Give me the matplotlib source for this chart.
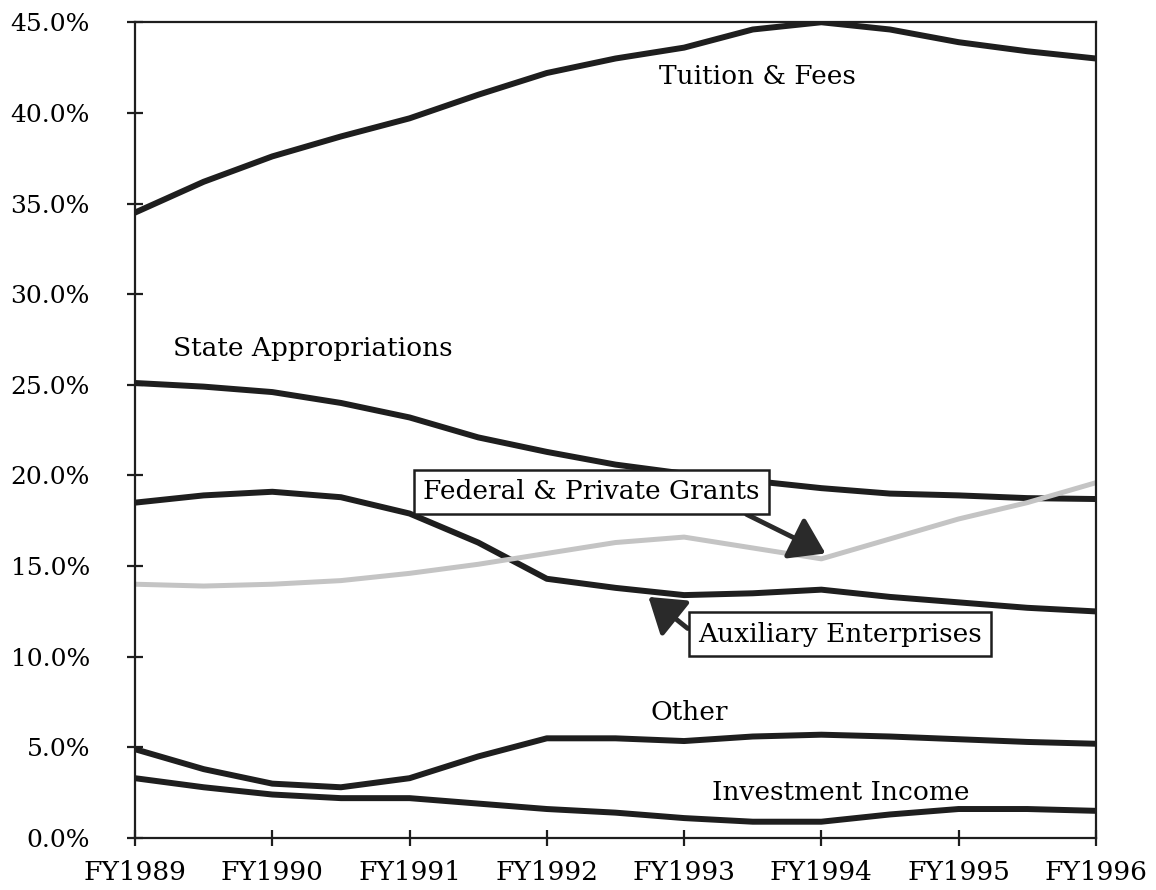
#Revenue shares by source, FY1989 - FY1996

import matplotlib
matplotlib.use('Agg')
import matplotlib.pyplot as plt
from matplotlib.ticker import FuncFormatter
import numpy as np

years = ['FY1989', 'FY1990', 'FY1991', 'FY1992', 'FY1993', 'FY1994', 'FY1995', 'FY1996']
# half-year steps between the fiscal years
x_pts = np.arange(0, 7.01, 0.5)

tuition = [34.5, 36.2, 37.6, 38.7, 39.7, 41.0, 42.2, 43.0, 43.6, 44.6, 45.0, 44.6, 43.9, 43.4, 43.0]
state = [25.1, 24.9, 24.6, 24.0, 23.2, 22.1, 21.3, 20.6, 20.1, 19.7, 19.3, 19.0, 18.9, 18.75, 18.7]
auxiliary = [18.5, 18.9, 19.1, 18.8, 17.9, 16.3, 14.3, 13.8, 13.4, 13.5, 13.7, 13.3, 13.0, 12.7, 12.5]
grants = [14.0, 13.9, 14.0, 14.2, 14.6, 15.1, 15.7, 16.3, 16.6, 16.0, 15.4, 16.5, 17.6, 18.5, 19.6]
other = [4.9, 3.8, 3.0, 2.8, 3.3, 4.5, 5.5, 5.5, 5.35, 5.6, 5.7, 5.6, 5.45, 5.3, 5.2]
investment = [3.3, 2.8, 2.4, 2.2, 2.2, 1.9, 1.6, 1.4, 1.1, 0.9, 0.9, 1.3, 1.6, 1.6, 1.5]

serif = 'DejaVu Serif'

fig = plt.figure(figsize=(11.56, 8.9), dpi=100)
ax = fig.add_axes([0.1168, 0.0584, 0.948 - 0.1168, 0.975 - 0.0584])

dark = '#1e1e1e'
for series in [tuition, state, auxiliary, other, investment]:
    ax.plot(x_pts, series, color=dark, lw=4.3, solid_capstyle='round', solid_joinstyle='round')
ax.plot(x_pts, grants, color='#c4c4c4', lw=3.6, solid_joinstyle='round')

ax.set_xlim(0, 7)
ax.set_ylim(0, 45)
ax.set_xticks(range(len(years)))
ax.set_xticklabels(years, fontfamily=serif, fontsize=19)
ax.set_yticks(np.arange(0, 45.1, 5))
ax.yaxis.set_major_formatter(FuncFormatter(lambda v, p: '%.1f%%' % v))
for lab in ax.get_yticklabels():
    lab.set_fontfamily(serif)
    lab.set_fontsize(18)
ax.tick_params(axis='both', direction='inout', length=11, width=1.6, color=dark)
ax.tick_params(axis='y', pad=27)
ax.tick_params(axis='x', pad=10)
for sp in ax.spines.values():
    sp.set_linewidth(1.6)
    sp.set_color(dark)

txt = dict(fontfamily=serif, fontsize=19, color='black')
ax.text(3.82, 42.0, 'Tuition & Fees', va='center', ha='left', **txt)
ax.text(0.28, 27.0, 'State Appropriations', va='center', ha='left', **txt)
ax.text(4.04, 6.9, 'Other', va='center', ha='center', **txt)
ax.text(4.2, 2.5, 'Investment Income', va='center', ha='left', **txt)

box = dict(boxstyle='square,pad=0.35', fc='white', ec=dark, lw=1.8)
arrow = dict(arrowstyle='-|>,head_length=0.75,head_width=0.5', color='#2a2a2a', lw=3.5,
             mutation_scale=28, shrinkA=0, shrinkB=0)
ax.annotate('Federal & Private Grants', xy=(5.03, 15.7), xytext=(2.1, 19.1),
            ha='left', va='center', bbox=box, arrowprops=dict(arrow, relpos=(0.9, 0.0)), **txt)
ax.annotate('Auxiliary Enterprises', xy=(3.74, 13.3), xytext=(4.1, 11.25),
            ha='left', va='center', bbox=box, arrowprops=dict(arrow, relpos=(0.0, 0.4)), **txt)

fig.savefig('out.png', dpi=100)
